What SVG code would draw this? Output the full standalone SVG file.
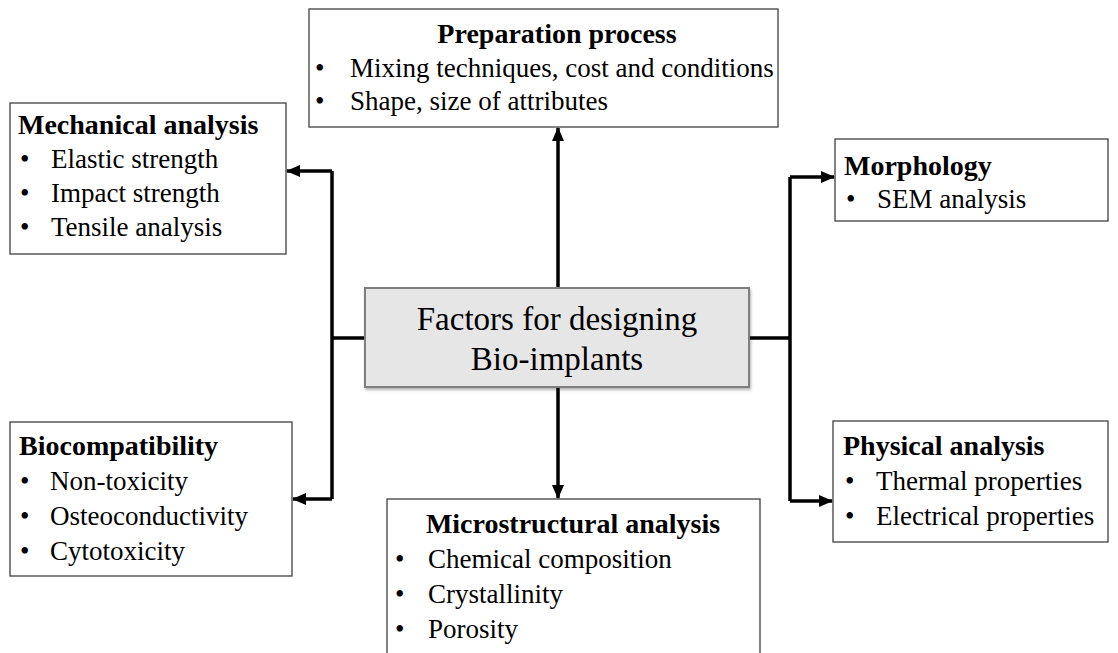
<svg xmlns="http://www.w3.org/2000/svg" width="1118" height="653" viewBox="0 0 1118 653">
<style>
.box{fill:#fff;stroke:#404040;stroke-width:1.3}
.core{fill:#e6e6e6;stroke:#7f7f7f;stroke-width:2}
text{font-family:'Liberation Serif','DejaVu Serif',serif;fill:#000}
.h{font-weight:bold;font-size:28px}
.t{font-size:27px}
.c{font-size:33px;text-anchor:middle}
.ln{fill:none;stroke:#000;stroke-width:3.5;stroke-linejoin:miter}
</style>
<defs>
<marker id="ah" markerUnits="userSpaceOnUse" markerWidth="14" markerHeight="14" viewBox="0 0 14 14" refX="13" refY="7" orient="auto">
<path d="M0,1 L14,7 L0,13 Z" fill="#000"/>
</marker>
<filter id="sh" x="-5%" y="-5%" width="110%" height="120%">
<feDropShadow dx="1" dy="2" stdDeviation="1.5" flood-color="#000" flood-opacity="0.3"/>
</filter>
</defs>
<g id="connectors">
<line class="ln" x1="558" y1="288" x2="558" y2="128" marker-end="url(#ah)"/>
<line class="ln" x1="558" y1="387" x2="558" y2="498" marker-end="url(#ah)"/>
<line class="ln" x1="365" y1="338" x2="332" y2="338"/>
<polyline class="ln" points="332,171 332,499"/>
<line class="ln" x1="332" y1="171" x2="287" y2="171" marker-end="url(#ah)"/>
<line class="ln" x1="332" y1="499" x2="293" y2="499" marker-end="url(#ah)"/>
<line class="ln" x1="749" y1="338" x2="790" y2="338"/>
<polyline class="ln" points="790,177 790,501"/>
<line class="ln" x1="790" y1="177" x2="834" y2="177" marker-end="url(#ah)"/>
<line class="ln" x1="790" y1="501" x2="832" y2="501" marker-end="url(#ah)"/>
</g>
<g id="center">
<rect class="core" x="365" y="288" width="384" height="99" filter="url(#sh)"/>
<text class="c" x="557" y="330">Factors for designing</text>
<text class="c" x="557" y="370">Bio-implants</text>
</g>
<g id="preparation">
<rect class="box" x="309" y="9" width="469" height="118"/>
<text class="h" x="557" y="43" text-anchor="middle">Preparation process</text>
<text class="t" x="315" y="77">•</text><text class="t" x="350" y="77">Mixing techniques, cost and conditions</text>
<text class="t" x="315" y="110">•</text><text class="t" x="350" y="110">Shape, size of attributes</text>
</g>
<g id="mechanical">
<rect class="box" x="10" y="103" width="276" height="151"/>
<text class="h" x="18" y="134">Mechanical analysis</text>
<text class="t" x="20" y="168">•</text><text class="t" x="51" y="168">Elastic strength</text>
<text class="t" x="20" y="202">•</text><text class="t" x="51" y="202">Impact strength</text>
<text class="t" x="20" y="236">•</text><text class="t" x="51" y="236">Tensile analysis</text>
</g>
<g id="biocompatibility">
<rect class="box" x="10" y="422" width="282" height="154"/>
<text class="h" x="19" y="455">Biocompatibility</text>
<text class="t" x="20" y="490">•</text><text class="t" x="50" y="490">Non-toxicity</text>
<text class="t" x="20" y="525">•</text><text class="t" x="50" y="525">Osteoconductivity</text>
<text class="t" x="20" y="560">•</text><text class="t" x="50" y="560">Cytotoxicity</text>
</g>
<g id="microstructural">
<rect class="box" x="387" y="499" width="373" height="170"/>
<text class="h" x="573" y="533" text-anchor="middle">Microstructural analysis</text>
<text class="t" x="395" y="568">•</text><text class="t" x="428" y="568">Chemical composition</text>
<text class="t" x="395" y="603">•</text><text class="t" x="428" y="603">Crystallinity</text>
<text class="t" x="395" y="638">•</text><text class="t" x="428" y="638">Porosity</text>
</g>
<g id="morphology">
<rect class="box" x="835" y="139" width="273" height="82"/>
<text class="h" x="844" y="175">Morphology</text>
<text class="t" x="846" y="208">•</text><text class="t" x="877" y="208">SEM analysis</text>
</g>
<g id="physical">
<rect class="box" x="833" y="421" width="275" height="121"/>
<text class="h" x="843" y="455">Physical analysis</text>
<text class="t" x="845" y="490">•</text><text class="t" x="876" y="490">Thermal properties</text>
<text class="t" x="845" y="525">•</text><text class="t" x="876" y="525">Electrical properties</text>
</g>
</svg>
